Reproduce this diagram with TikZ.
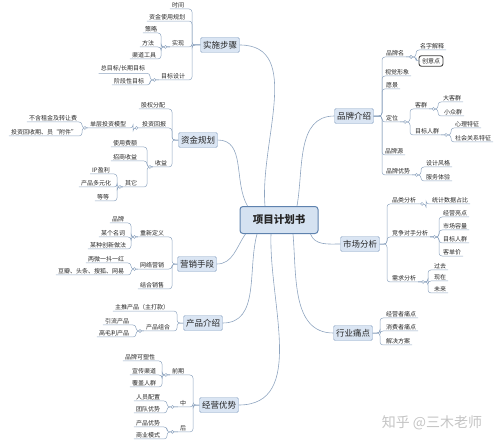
\documentclass[tikz,border=0pt]{standalone}
\usepackage{fontspec}
\newfontfamily\cjk{Noto Sans CJK SC}
\usetikzlibrary{calc}
\definecolor{linecol}{HTML}{8FA5C0}
\definecolor{topicfill}{HTML}{DAE5F3}
\definecolor{topicborder}{HTML}{8AA4C4}
\definecolor{cfill}{HTML}{D5E2F1}
\definecolor{cborder}{HTML}{5E82AE}
\definecolor{wm}{HTML}{C4C4C4}
\definecolor{txt}{HTML}{262626}
\tikzset{
  leaf/.style={font=\cjk\fontsize{6}{7}\selectfont, inner xsep=2pt, inner ysep=1pt, text=txt},
  topic/.style={draw=topicborder, fill=topicfill, rounded corners=1.5pt, font=\cjk\fontsize{8.5}{10}\selectfont, inner xsep=2.5pt, inner ysep=3pt, minimum height=15pt, text=txt},
  central/.style={draw=cborder, fill=cfill, line width=1pt, rounded corners=3pt, font=\cjk\bfseries\fontsize{10.5}{12}\selectfont, minimum width=78pt, minimum height=27pt, text=txt},
  keybox/.style={leaf, draw=black!75, line width=0.9pt, rounded corners=2.5pt, inner xsep=3pt, inner ysep=2.5pt},
  br/.style={draw=linecol, line width=0.5pt, rounded corners=3pt},
  conn/.style={draw=linecol, line width=0.6pt},
  dot/.style={circle, draw=linecol, fill=white, inner sep=0pt, minimum size=3pt, line width=0.5pt},
}
\newcommand\LB[3]{\foreach \cc in {#3}{\draw[br] (#1) -- (#1 -| #2,0) |- (\cc.south west);}}
\newcommand\RB[3]{\foreach \cc in {#3}{\draw[br] (#1) -- (#1 -| #2,0) |- (\cc.south east);}}
\newcommand\LBc[3]{\LB{#1}{#2}{#3}\node[dot] at ($(#1)!0.5!(#1 -| #2,0)$) {};}
\newcommand\RBc[3]{\RB{#1}{#2}{#3}\node[dot] at ($(#1)!0.5!(#1 -| #2,0)$) {};}
\begin{document}
\begin{tikzpicture}[x=1pt,y=-1pt]
\useasboundingbox (0,0) rectangle (500,444);
% central and topics
\node[central] (c) at (279,220) {项目计划书};
\node[topic] (T1) at (220,45) {实施步骤};
\node[topic] (T2) at (198,140) {资金规划};
\node[topic] (T3) at (197,264) {营销手段};
\node[topic] (T4) at (203,323) {产品介绍};
\node[topic] (T5) at (219,405) {经营优势};
\node[topic] (T6) at (354,116) {品牌介绍};
\node[topic] (T7) at (360,244) {市场分析};
\node[topic] (T8) at (353,333) {行业痛点};
% central connectors
\draw[conn] ($(c.north)+(-14,0)$) to[out=95,in=0] (T1.east);
\draw[conn] ($(c.north west)+(8,0)$) to[out=120,in=0] (T2.east);
\draw[conn] ($(c.south west)+(6,0)$) to[out=235,in=0] (T3.east);
\draw[conn] ($(c.south)+(-22,0)$) to[out=255,in=0] (T4.east);
\draw[conn] ($(c.south)+(-8,0)$) to[out=268,in=0] (T5.east);
\draw[conn] ($(c.north)+(18,0)$) to[out=80,in=180] (T6.west);
\draw[conn] ($(c.south east)+(-8,0)$) to[out=-70,in=180] (T7.west);
\draw[conn] ($(c.south)+(14,0)$) to[out=-85,in=180] (T8.west);
% 实施步骤
\node[leaf] (s1) at (178,5) {时间};
\node[leaf] (s2) at (167,17) {资金使用规划};
\node[leaf] (s3) at (178,43) {实现};
\node[leaf] (s4) at (173,76) {目标设计};
\node[leaf] (s31) at (151,29) {策略};
\node[leaf] (s32) at (148,43) {方法};
\node[leaf] (s33) at (144,55) {渠道工具};
\node[leaf] (s41) at (123,69) {总目标/长期目标};
\node[leaf] (s42) at (129,81) {阶段性目标};
\LB{T1.west}{192}{s1,s2,s3,s4}
\LBc{s3.south west}{161}{s31,s32,s33}
\LBc{s4.south west}{150}{s41,s42}
% 资金规划
\node[leaf] (f1) at (153,105) {股权分配};
\node[leaf] (f2) at (154,124) {投资回报};
\node[leaf] (f3) at (161,163) {收益};
\node[leaf] (f21) at (108,124) {单层投资模型};
\node[leaf] (f211) at (53,118) {不含租金及转让费};
\node[leaf] (f212) at (44,132) {投资回收期、员“附件”};
\node[leaf] (f31) at (125,143) {使用费额};
\node[leaf] (f32) at (125,157) {招商收益};
\node[leaf] (f33) at (131,183) {其它};
\node[leaf] (f331) at (101,170) {IP盈利};
\node[leaf] (f332) at (96,183) {产品多元化};
\node[leaf] (f333) at (103,197) {等等};
\LB{T2.west}{172}{f1,f2,f3}
\LBc{f2.south west}{133}{f21}
\LBc{f21.south west}{82}{f211,f212}
\LBc{f3.south west}{147}{f31,f32,f33}
\LBc{f33.south west}{117}{f331,f332,f333}
% 营销手段
\node[leaf] (m1) at (152,233) {重新定义};
\node[leaf] (m2) at (152,265) {网络营销};
\node[leaf] (m3) at (152,285) {结合销售};
\node[leaf] (m11) at (118,219) {品牌};
\node[leaf] (m12) at (113,233) {某个名词};
\node[leaf] (m13) at (108,245) {某种创新做法};
\node[leaf] (m21) at (106,259) {两微一抖一红};
\node[leaf] (m22) at (91,271) {豆瓣、头条、搜狐、网易};
\LB{T3.west}{172}{m1,m2,m3}
\LBc{m1.south west}{131}{m11,m12,m13}
\LBc{m2.south west}{131}{m21,m22}
% 产品介绍
\node[leaf] (p1) at (142,307) {主推产品（主打款）};
\node[leaf] (p2) at (158,327) {产品组合};
\node[leaf] (p21) at (117,321) {引流产品};
\node[leaf] (p22) at (114,333) {高毛利产品};
\LB{T4.west}{177}{p1,p2}
\LBc{p2.south west}{136}{p21,p22}
% 经营优势
\node[leaf] (o1) at (178,371) {前期};
\node[leaf] (o2) at (183,403) {中};
\node[leaf] (o3) at (183,428) {后};
\node[leaf] (o11) at (140,357) {品牌可塑性};
\node[leaf] (o12) at (144,371) {宣传渠道};
\node[leaf] (o13) at (144,383) {覆盖人群};
\node[leaf] (o21) at (148,397) {人员配置};
\node[leaf] (o22) at (148,409) {团队优势};
\node[leaf] (o31) at (148,423) {产品优势};
\node[leaf] (o32) at (148,435) {商业模式};
\LB{T5.west}{193}{o1,o2,o3}
\LBc{o1.south west}{162}{o11,o12,o13}
\LBc{o2.south west}{167}{o21,o22}
\LBc{o3.south west}{167}{o31,o32}
% 品牌介绍
\node[leaf] (b1) at (395,53) {品牌名};
\node[leaf] (b2) at (397,72) {视觉形象};
\node[leaf] (b3) at (392,85) {愿景};
\node[leaf] (b4) at (392,118) {定位};
\node[leaf] (b5) at (394,151) {品牌源};
\node[leaf] (b6) at (398,171) {品牌优势};
\node[leaf] (b11) at (432,46) {名字解释};
\node[keybox] (b12) at (431,61) {创意点};
\node[leaf] (b41) at (421,105) {客群};
\node[leaf] (b42) at (427,131) {目标人群};
\node[leaf] (b411) at (452,98) {大客群};
\node[leaf] (b412) at (453,112) {小众群};
\node[leaf] (b421) at (467,124) {心理特征};
\node[leaf] (b422) at (473,138) {社会关系特征};
\node[leaf] (b61) at (438,163) {设计风格};
\node[leaf] (b62) at (438,177) {服务体验};
\RB{T6.east}{382}{b1,b2,b3,b4,b5,b6}
\RBc{b1.south east}{416}{b11}
\draw[br] (b1.south east) -- (b1.south east -| 416,0) |- (b12.west);
\node[dot] at ($(b1.south east)!0.5!(b1.south east -| 416,0)$) {};
\RBc{b4.south east}{410}{b41,b42}
\RBc{b41.south east}{438}{b411,b412}
\RBc{b42.south east}{451}{b421,b422}
\RBc{b6.south east}{421}{b61,b62}
% 市场分析
\node[leaf] (k1) at (404,200) {品类分析};
\node[leaf] (k2) at (410,233) {竞争对手分析};
\node[leaf] (k3) at (404,278) {需求分析};
\node[leaf] (k11) at (450,200) {统计数据占比};
\node[leaf] (k21) at (455,213) {经营亮点};
\node[leaf] (k22) at (455,226) {市场容量};
\node[leaf] (k23) at (455,239) {目标人群};
\node[leaf] (k24) at (452,252) {客单价};
\node[leaf] (k31) at (440,266) {过去};
\node[leaf] (k32) at (440,277) {现在};
\node[leaf] (k33) at (440,289) {未来};
\RB{T7.east}{387}{k1,k2,k3}
\RBc{k1.south east}{426}{k11}
\RBc{k2.south east}{439}{k21,k22,k23,k24}
\RBc{k3.south east}{428}{k31,k32,k33}
% 行业痛点
\node[leaf] (h1) at (401,314) {经营者痛点};
\node[leaf] (h2) at (401,327) {消费者痛点};
\node[leaf] (h3) at (398,341) {解决方案};
\RB{T8.east}{380}{h1,h2,h3}
% watermark
\node[font=\cjk\fontsize{14}{16}\selectfont, text=wm] (wmk) at (432,423) {知乎 @三木老师};
\end{tikzpicture}
\end{document}
